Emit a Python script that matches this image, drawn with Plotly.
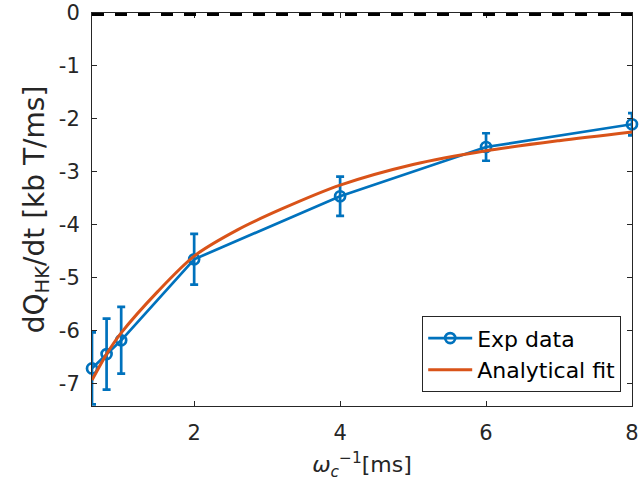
import plotly.graph_objects as go

# Experimental data
x_exp = [0.6, 0.8, 1.0, 2, 4, 6, 8]
y_exp = [-6.71, -6.44, -6.18, -4.65, -3.46, -2.53, -2.10]
err_exp = [0.68, 0.67, 0.63, 0.48, 0.37, 0.26, 0.21]

# Analytical fit
x_fit = [0.6, 0.8, 1.0, 1.5, 2, 2.6, 3.2, 4, 5, 6, 7, 8]
y_fit = [-6.93, -6.44, -6.04, -5.26, -4.59, -4.09, -3.70, -3.25, -2.86, -2.60, -2.41, -2.245]

# Reference level
y_zero = 0

x_ticks = [2, 4, 6, 8]
x_ticktext = ["2", "4", "6", "8"]
y_ticks = [0, -1, -2, -3, -4, -5, -6, -7]
y_ticktext = ["0", "-1", "-2", "-3", "-4", "-5", "-6", "-7"]

BLUE = "#0072BD"
ORANGE = "#D95319"
AX = "#262626"
FONT = "DejaVu Sans"

fig = go.Figure()

fig.add_trace(go.Scatter(
    x=x_exp, y=y_exp, mode="lines+markers", name="Exp data",
    line=dict(color=BLUE, width=2.7),
    marker=dict(symbol="circle-open", size=10, color=BLUE, line=dict(width=2.7, color=BLUE)),
    error_y=dict(type="data", array=err_exp, visible=True, color=BLUE, thickness=2.7, width=4),
    cliponaxis=False,
))

fig.add_trace(go.Scatter(
    x=x_fit, y=y_fit, mode="lines", name="Analytical fit",
    line=dict(color=ORANGE, width=3, shape="spline", smoothing=0.8),
))

fig.add_shape(type="line", xref="paper", yref="y", x0=0, x1=1, y0=y_zero, y1=y_zero,
              line=dict(color="black", width=6, dash="12px,11px"), layer="above")

fig.update_layout(
    width=641, height=486,
    margin=dict(l=92, r=9, t=13, b=80, autoexpand=False),
    paper_bgcolor="white", plot_bgcolor="white",
    font=dict(family=FONT, size=21, color=AX),
    showlegend=True,
    legend=dict(
        x=0.98, y=0.035, xanchor="right", yanchor="bottom",
        bgcolor="white", bordercolor=AX, borderwidth=1,
        font=dict(family=FONT, size=22, color="black"),
        tracegroupgap=0, itemwidth=44,
    ),
)

fig.update_xaxes(
    range=[0.6, 8], tickvals=x_ticks, ticktext=x_ticktext,
    ticks="inside", ticklen=5, tickwidth=1, tickcolor=AX,
    showline=True, linecolor=AX, linewidth=1, mirror="ticks",
    showgrid=False, zeroline=False, automargin=False,
    tickfont=dict(family=FONT, size=21, color=AX),
    title=dict(text="<i>ω</i><sub><i>c</i></sub><sup>−1</sup>[ms]",
               font=dict(family=FONT, size=22, color=AX), standoff=12),
    ticklabelstandoff=8, ticklabeloverflow="allow",
)

fig.update_yaxes(
    range=[-7.42, 0], tickvals=y_ticks, ticktext=y_ticktext,
    ticks="inside", ticklen=5, tickwidth=1, tickcolor=AX,
    showline=True, linecolor=AX, linewidth=1, mirror="ticks",
    showgrid=False, zeroline=False, automargin=False,
    tickfont=dict(family=FONT, size=21, color=AX),
    title=dict(text="dQ<sub>HK</sub>/dt [kb T/ms]",
               font=dict(family=FONT, size=28, color=AX), standoff=6),
    ticklabelstandoff=7, ticklabeloverflow="allow",
)

fig.write_html("out.html", config={"displayModeBar": False},
               post_script="document.body.style.margin='0';document.body.style.overflow='hidden';")
